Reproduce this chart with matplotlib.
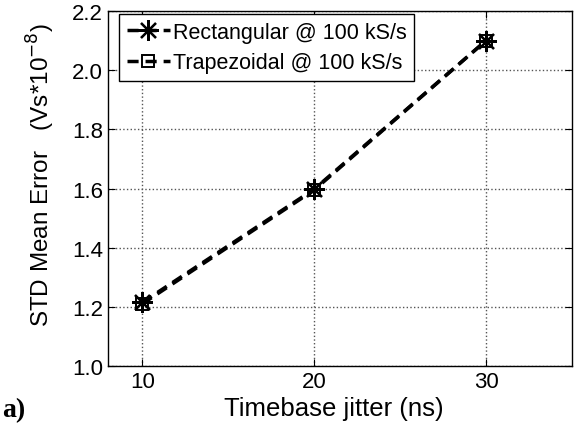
import numpy as np
import matplotlib.pyplot as plt

jitter = [10, 20, 30]
rect_err = [1.215, 1.598, 2.10]
trap_err = [1.210, 1.595, 2.10]

plt.rcParams['font.family'] = ['Liberation Sans', 'DejaVu Sans']

fig = plt.figure(figsize=(5.83, 4.27), dpi=100)
ax = fig.add_axes([108 / 583, 1 - 367 / 427, (572 - 108) / 583, (367 - 12) / 427])

ax.plot(jitter, rect_err, color='k', linestyle='--', linewidth=2.5, dashes=(3.2, 2.0),
        marker=(8, 2, 0), markersize=15, markeredgewidth=1.6, markerfacecolor='k',
        label='Rectangular @ 100 kS/s')
ax.plot(jitter, trap_err, color='k', linestyle='--', linewidth=2.5, dashes=(3.2, 2.0),
        marker='s', markersize=8, markeredgewidth=1.4, markerfacecolor='none',
        label='Trapezoidal @ 100 kS/s')

ax.set_xlim(8, 35)
ax.set_ylim(1.0, 2.2)
ax.set_xticks([10, 20, 30])
ax.set_yticks(np.arange(1.0, 2.21, 0.2))
ax.set_yticklabels(['%.1f' % v for v in np.arange(1.0, 2.21, 0.2)])
ax.grid(True, linestyle=':', color='#555555', linewidth=1.0)
ax.tick_params(direction='in', top=True, right=True, labelsize=16, length=5)
for s in ax.spines.values():
    s.set_linewidth(1.0)

ax.set_xlabel('Timebase jitter (ns)', fontsize=18.5, labelpad=0)
ax.xaxis.set_label_coords(0.487, -0.085)
ax.set_ylabel('STD Mean Error   (Vs*10$^{-8}$)', fontsize=17.5)
ax.yaxis.set_label_coords(-0.11, 0.54)

leg = ax.legend(loc='upper left', bbox_to_anchor=(0.024, 0.9915), borderaxespad=0,
                fontsize=15.5, handlelength=2.0, handletextpad=0.15, borderpad=0.35,
                labelspacing=0.45, fancybox=False, framealpha=1, edgecolor='k')
leg.get_frame().set_linewidth(1.0)

fig.text(2 / 583, 1 - 417 / 427, 'a)', family='Liberation Serif', fontweight='bold',
         fontsize=20)

fig.savefig('out.png', dpi=100)
